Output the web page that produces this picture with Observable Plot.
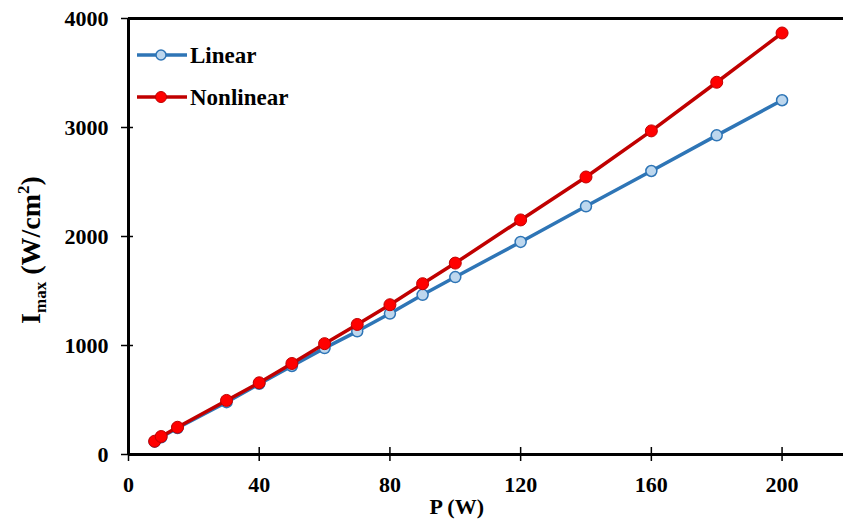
<!DOCTYPE html>
<html><head><meta charset="utf-8">
<script src="https://cdn.jsdelivr.net/npm/d3@7"></script>
<script src="https://cdn.jsdelivr.net/npm/@observablehq/plot@0.6"></script>
<style>body{margin:0;background:#fff}#c{width:843px;height:525px}</style>
</head><body><div id="c"></div>
<script>
const power = [8, 10, 15, 30, 40, 50, 60, 70, 80, 90, 100, 120, 140, 160, 180, 200];
const linear = [118, 158, 243, 480, 648, 812, 976, 1130, 1293, 1465, 1628, 1950, 2277, 2601, 2928, 3250];
const nonlinear = [122, 165, 250, 496, 658, 835, 1017, 1193, 1374, 1567, 1756, 2152, 2546, 2969, 3415, 3867];
const xTicks = [0, 40, 80, 120, 160, 200];
const yTicks = [0, 1000, 2000, 3000, 4000];
const seriesNames = ["Linear", "Nonlinear"];

const linData = power.map((p, i) => ({p, v: linear[i]}));
const nonData = power.map((p, i) => ({p, v: nonlinear[i]}));

const FONT = '"Liberation Serif", "Times New Roman", Times, serif';
const BLUE = "#2E75B6", BLUE_FILL = "#BDD7EE", RED = "#C00000", RED_FILL = "#FF0000";

const plot = Plot.plot({
  width: 843, height: 525,
  marginLeft: 128, marginRight: 0, marginTop: 18, marginBottom: 71,
  style: {fontFamily: FONT, fontWeight: "bold", fontSize: "22px", color: "#000", background: "#fff"},
  x: {domain: [0, 218.8]},
  y: {domain: [0, 4000]},
  marks: [
    Plot.axisX({ticks: xTicks, tickSize: 14, dy: -7, fill: "none", label: null, strokeWidth: 1.5}),
    Plot.axisX({ticks: xTicks, tickSize: 0, tickPadding: 22, label: null, fontSize: 22, fontFamily: FONT, tickFormat: d => String(d)}),
    Plot.axisY({ticks: yTicks, tickSize: 12, dx: 5, fill: "none", label: null, strokeWidth: 1.5}),
    Plot.axisY({ticks: yTicks, tickSize: 0, tickPadding: 20, label: null, fontSize: 22, fontFamily: FONT, tickFormat: d => String(d)}),
    Plot.ruleY([0], {stroke: "#000", strokeWidth: 3}),
    Plot.ruleX([0], {stroke: "#000", strokeWidth: 3}),
    Plot.ruleY([4000], {stroke: "#000", strokeWidth: 3}),
    Plot.line(linData, {x: "p", y: "v", stroke: BLUE, strokeWidth: 3.5}),
    Plot.dot(linData, {x: "p", y: "v", r: 5.5, fill: BLUE_FILL, stroke: BLUE, strokeWidth: 1.5}),
    Plot.line(nonData, {x: "p", y: "v", stroke: RED, strokeWidth: 3.5}),
    Plot.dot(nonData, {x: "p", y: "v", r: 6, fill: RED_FILL, stroke: RED, strokeWidth: 1})
  ]
});

const svg = d3.select(plot);
const xs = plot.scale("x");

// Y axis title with subscript and superscript
const yt = svg.append("text")
  .attr("transform", "translate(40,250) rotate(-90)")
  .attr("text-anchor", "middle")
  .attr("fill", "#000")
  .style("font-family", FONT).style("font-weight", "bold").style("font-size", "28px");
yt.append("tspan").text("I");
yt.append("tspan").attr("font-size", "17px").attr("dy", 6).text("max");
yt.append("tspan").attr("dy", -6).text(" (W/cm");
yt.append("tspan").attr("font-size", "17px").attr("dy", -11).text("2");
yt.append("tspan").attr("dy", 11).text(")");

// X axis title
svg.append("text")
  .attr("x", xs.apply(100) + 2).attr("y", 514)
  .attr("text-anchor", "middle").attr("fill", "#000")
  .style("font-family", FONT).style("font-weight", "bold").style("font-size", "22px")
  .text("P (W)");

// Legend
const legendRows = [
  {name: seriesNames[0], stroke: BLUE, fill: BLUE_FILL, y: 55, r: 5, sw: 1.5},
  {name: seriesNames[1], stroke: RED, fill: RED_FILL, y: 97, r: 5.5, sw: 1}
];
const lg = svg.append("g");
for (const row of legendRows) {
  lg.append("line").attr("x1", 137).attr("x2", 187).attr("y1", row.y).attr("y2", row.y)
    .attr("stroke", row.stroke).attr("stroke-width", 3.5);
  lg.append("circle").attr("cx", 161).attr("cy", row.y).attr("r", row.r)
    .attr("fill", row.fill).attr("stroke", row.stroke).attr("stroke-width", row.sw);
  lg.append("text").attr("x", 190).attr("y", row.y + 8).attr("fill", "#000")
    .attr("text-anchor", "start")
    .style("font-family", FONT).style("font-weight", "bold").style("font-size", "23px")
    .text(row.name);
}

document.getElementById("c").appendChild(plot);
</script>
</body></html>
